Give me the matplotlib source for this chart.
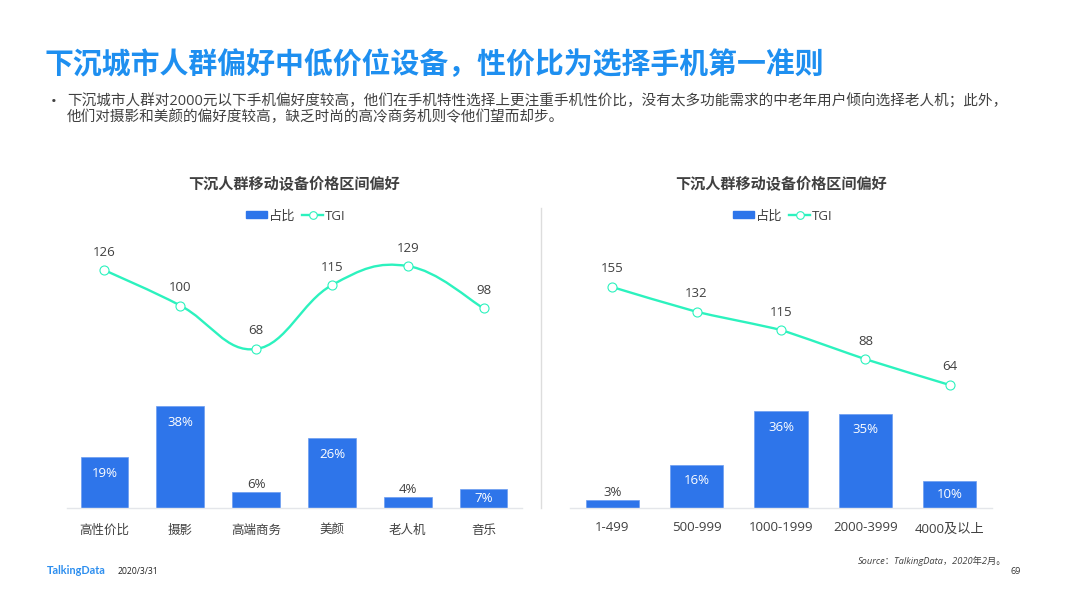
import matplotlib
matplotlib.use("Agg")
import matplotlib.pyplot as plt
from matplotlib.lines import Line2D
from matplotlib.patches import Patch, PathPatch
from matplotlib.path import Path
import numpy as np

plt.rcParams['font.family'] = ['Open Sans', 'Noto Sans CJK SC', 'DejaVu Sans']

W, H = 1066, 599
BLUE = '#2E75EA'
GREEN = '#2CF2BE'
DARK = '#404040'

title = '下沉城市人群偏好中低价位设备，性价比为选择手机第一准则'
body_1 = '下沉城市人群对2000元以下手机偏好度较高，他们在手机特性选择上更注重手机性价比，没有太多功能需求的中老年用户倾向选择老人机；此外，'
body_2 = '他们对摄影和美颜的偏好度较高，缺乏时尚的高冷商务机则令他们望而却步。'
chart_title = '下沉人群移动设备价格区间偏好'

feature_labels = ['高性价比', '摄影', '高端商务', '美颜', '老人机', '音乐']
feature_share = [19, 38, 6, 26, 4, 7]
feature_tgi = [126, 100, 68, 115, 129, 98]

price_labels = ['1-499', '500-999', '1000-1999', '2000-3999', '4000及以上']
price_share = [3, 16, 36, 35, 10]
price_tgi = [155, 132, 115, 88, 64]


# pixel box (left, top, right, bottom) to figure fractions
def make_axes(fig, left, top, right, bottom):
    return fig.add_axes([left / W, 1 - bottom / H, (right - left) / W, (bottom - top) / H])


def put_text(fig, x, y, s, **kw):
    kw.setdefault('va', 'center')
    fig.text(x / W, 1 - y / H, s, **kw)


# smooth line through the points, bezier handles from the neighbours
def smooth_path(x, y, k=0.2):
    x = np.asarray(x, dtype=float)
    y = np.asarray(y, dtype=float)
    verts = [(x[0], y[0])]
    codes = [Path.MOVETO]
    for i in range(len(x) - 1):
        prev_i = max(i - 1, 0)
        next_i = min(i + 2, len(x) - 1)
        verts.append((x[i] + k * (x[i + 1] - x[prev_i]), y[i] + k * (y[i + 1] - y[prev_i])))
        verts.append((x[i + 1] - k * (x[next_i] - x[i]), y[i + 1] - k * (y[next_i] - y[i])))
        verts.append((x[i + 1], y[i + 1]))
        codes += [Path.CURVE4] * 3
    return Path(verts, codes)


def draw_panel(fig, box, labels, share, tgi, tick_size, tick_pad, bar_max, tgi_lim, smooth_k):
    ax = make_axes(fig, *box)
    pos = np.arange(len(labels))
    ax.bar(pos, share, width=0.63, color=BLUE, edgecolor='#6C9DF0', linewidth=0.5)
    ax.set_xlim(-0.5, len(labels) - 0.5)
    ax.set_ylim(0, bar_max)
    ax.set_xticks(pos)
    ax.set_xticklabels(labels, fontsize=tick_size, color=DARK)
    ax.tick_params(axis='x', length=0, pad=tick_pad)
    ax.set_yticks([])
    for side in ['top', 'left', 'right']:
        ax.spines[side].set_visible(False)
    ax.spines['bottom'].set_color('#E4E6EA')
    ax.spines['bottom'].set_linewidth(1)

    for p, v in zip(pos, share):
        h = v * 2.68
        if v >= 7:
            ax.annotate(f'{v}%', (p, v), xytext=(0, -min(16, h / 2) * 0.72), textcoords='offset points',
                        ha='center', va='center', fontsize=9.5, color='white')
        else:
            ax.annotate(f'{v}%', (p, v), xytext=(0, 5.5), textcoords='offset points',
                        ha='center', va='center', fontsize=9.5, color=DARK)

    line_ax = ax.twinx()
    line_ax.set_ylim(*tgi_lim)
    line_ax.set_yticks([])
    for side in line_ax.spines:
        line_ax.spines[side].set_visible(False)
    line_ax.add_patch(PathPatch(smooth_path(pos, tgi, smooth_k), fill=False, edgecolor=GREEN, linewidth=1.7,
                                capstyle='round'))
    line_ax.plot(pos, tgi, linestyle='none', marker='o', markersize=6.5, markerfacecolor='white',
                 markeredgecolor=GREEN, markeredgewidth=0.8, zorder=5)
    for p, v in zip(pos, tgi):
        line_ax.annotate(str(v), (p, v), xytext=(0, 13), textcoords='offset points',
                         ha='center', va='center', fontsize=9.5, color=DARK)

    handles = [Patch(facecolor=BLUE, edgecolor=BLUE, label='占比'),
               Line2D([0], [0], color=GREEN, linewidth=1.7, marker='o', markersize=5.5,
                      markerfacecolor='white', markeredgecolor=GREEN, markeredgewidth=0.8, label='TGI')]
    center_x = (box[0] + box[2]) / 2
    fig.legend(handles=handles, loc='center', bbox_to_anchor=((center_x + 2) / W, 1 - 216 / H), ncol=2, frameon=False,
               fontsize=9.5, labelcolor=DARK, handlelength=1.6, handleheight=0.45, handletextpad=0.15,
               columnspacing=0.5, borderpad=0)
    put_text(fig, center_x, 185, chart_title, ha='center', fontsize=10.9, fontweight='bold', color=DARK)
    return ax


fig = plt.figure(figsize=(W / 100, H / 100), dpi=100, facecolor='white')

put_text(fig, 45, 64.5, title, fontsize=20.8, fontweight='bold', color='#1E8FF0', family=['Noto Sans CJK SC'])
put_text(fig, 51, 102, '•', fontsize=11, color=DARK)
put_text(fig, 67, 102, body_1, fontsize=10.5, color=DARK)
put_text(fig, 67, 118, body_2, fontsize=10.5, color=DARK)

draw_panel(fig, (66.5, 208, 521.5, 508), feature_labels, feature_share, feature_tgi,
           9, 11.3, 300 / 2.68, (-48.9, 171.7), 0.2)
price_ax = draw_panel(fig, (570, 208, 992, 508), price_labels, price_share, price_tgi,
                      9.5, 9.2, 300 / 2.69, (-50.2, 228.4), 0.08)
# the last label sits a bit lower in the original
price_ax.xaxis.get_major_ticks()[-1].set_pad(11)

# divider between the two charts
fig.add_artist(Line2D([541 / W, 541 / W], [1 - 208 / H, 1 - 508 / H], color='#DDDDDD', linewidth=1))

put_text(fig, 1006, 561, 'Source：TalkingData，2020年2月。', ha='right', fontsize=6.7, style='italic', color=DARK)
put_text(fig, 47, 571, 'TalkingData', fontsize=7.8, fontweight='bold', color='#2E8FEF', family=['Lato'])
put_text(fig, 118, 572, '2020/3/31', fontsize=6.2, color='#222222')
put_text(fig, 1016, 571, '69', ha='center', fontsize=6.5, color='#333333')

fig.savefig('out.png', dpi=100)
